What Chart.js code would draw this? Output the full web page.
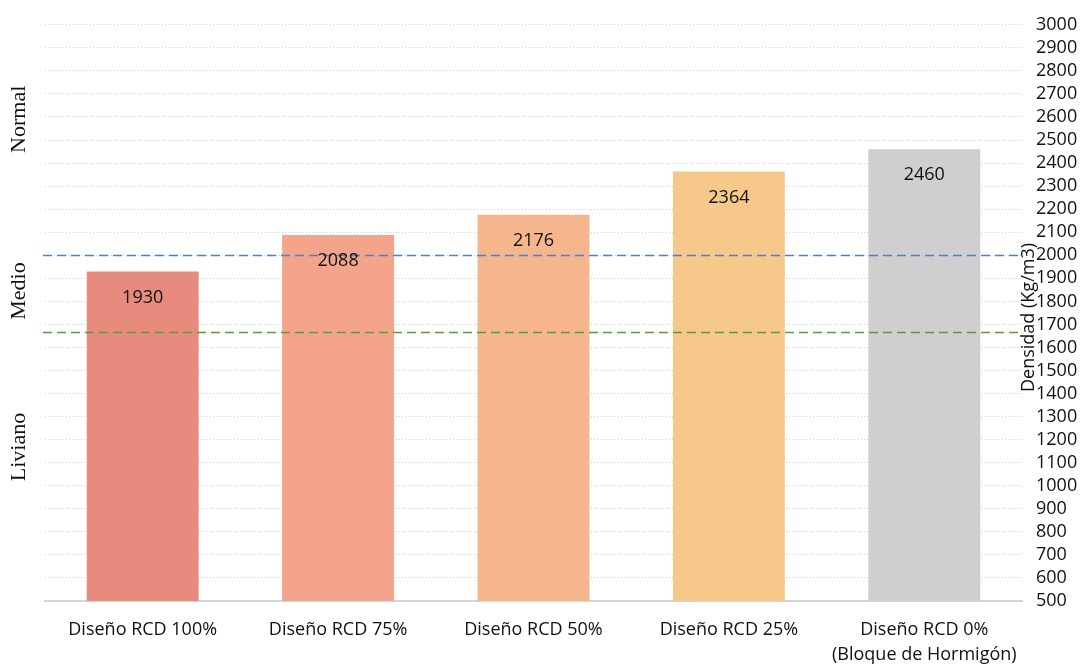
<!DOCTYPE html>
<html>
<head>
<meta charset="utf-8">
<script src="https://cdn.jsdelivr.net/npm/chart.js@4/dist/chart.umd.min.js"></script>
<style>
  html, body { margin: 0; padding: 0; background: #ffffff; }
  #wrap { width: 1089px; height: 666px; position: relative; }
</style>
</head>
<body>
<div id="wrap"><canvas id="c" width="1089" height="666"></canvas></div>
<script>
// Categories (multi-line labels) and measured densities
const categories = [
  ['Diseño RCD 100%'],
  ['Diseño RCD 75%'],
  ['Diseño RCD 50%'],
  ['Diseño RCD 25%'],
  ['Diseño RCD 0%', '(Bloque de Hormigón)']
];
const densidades = [1930, 2088, 2176, 2364, 2460];

// Density class limits (Medio / Normal and Liviano / Medio)
const limiteNormal = 2000;
const limiteLiviano = 1665;

// Class names shown on the left side
const clases = ['Normal', 'Medio', 'Liviano'];

// Axis range
const yMin = 500, yMax = 3000, yStep = 100;

const barColors = ['#E78B7E', '#F4A48A', '#F5B68E', '#F6C98A', '#D0CECF'];
const axisTitle = 'Densidad (Kg/m3)';

const FONT = '"Open Sans", "DejaVu Sans", sans-serif';

// Dashed horizontal limit lines across the plot area
const limitLines = {
  id: 'limitLines',
  afterDatasetsDraw(chart) {
    const { ctx, chartArea, scales } = chart;
    const lines = [
      { v: limiteNormal, color: '#4A80CC' },
      { v: limiteLiviano, color: '#5B9A3C' }
    ];
    ctx.save();
    ctx.lineWidth = 1.6;
    ctx.setLineDash([9, 5]);
    lines.forEach(l => {
      const y = Math.round(scales.y.getPixelForValue(l.v)) + 0.5;
      ctx.strokeStyle = l.color;
      ctx.beginPath();
      ctx.moveTo(chartArea.left - 2, y);
      ctx.lineTo(chartArea.right, y);
      ctx.stroke();
    });
    ctx.restore();
  }
};

// Value labels inside the top of each bar
const valueLabels = {
  id: 'valueLabels',
  afterDatasetsDraw(chart) {
    const { ctx } = chart;
    const meta = chart.getDatasetMeta(0);
    ctx.save();
    ctx.font = '18px ' + FONT;
    ctx.fillStyle = '#111111';
    ctx.textAlign = 'center';
    ctx.textBaseline = 'middle';
    meta.data.forEach((bar, i) => {
      ctx.fillText(String(chart.data.datasets[0].data[i]), bar.x, bar.y + 26);
    });
    ctx.restore();
  }
};

// Rotated side texts: class names on the left, axis title next to the right ticks
const sideTexts = {
  id: 'sideTexts',
  afterDraw(chart) {
    const { ctx, chartArea, scales } = chart;
    const centers = [2590, 1845, 1168];
    ctx.save();
    ctx.fillStyle = '#111111';
    ctx.textAlign = 'center';
    ctx.textBaseline = 'middle';
    ctx.font = '22px "Liberation Serif", "Times New Roman", serif';
    clases.forEach((t, i) => {
      const y = scales.y.getPixelForValue(centers[i]);
      ctx.save();
      ctx.translate(19, y);
      ctx.rotate(-Math.PI / 2);
      ctx.fillText(t, 0, 0);
      ctx.restore();
    });
    ctx.font = '18px ' + FONT;
    ctx.save();
    ctx.translate(chartArea.right + 7, scales.y.getPixelForValue(1730));
    ctx.rotate(-Math.PI / 2);
    ctx.fillText(axisTitle, 0, 0);
    ctx.restore();
    ctx.restore();
  }
};

new Chart(document.getElementById('c'), {
  type: 'bar',
  data: {
    labels: categories,
    datasets: [{
      data: densidades,
      backgroundColor: barColors,
      borderWidth: 0,
      categoryPercentage: 1,
      barPercentage: 0.573
    }]
  },
  options: {
    responsive: false,
    animation: false,
    devicePixelRatio: 1,
    layout: { padding: { left: 45, top: 21, right: 0, bottom: 0 } },
    plugins: {
      legend: { display: false },
      tooltip: { enabled: false }
    },
    scales: {
      x: {
        grid: { display: false, drawTicks: false },
        border: { display: true, color: '#D4D4D4', width: 2 },
        ticks: {
          color: '#111111',
          font: { family: FONT, size: 18, lineHeight: 1.4 },
          padding: 16,
          maxRotation: 0,
          autoSkip: false
        },
        afterFit(scale) { scale.height = 65; }
      },
      y: {
        position: 'right',
        min: yMin,
        max: yMax,
        grid: { color: '#CFCFCF', lineWidth: 1, drawTicks: false },
        border: { display: false, dash: [1, 2] },
        ticks: {
          stepSize: yStep,
          color: '#111111',
          font: { family: FONT, size: 18 },
          padding: 14,
          autoSkip: false,
          callback: v => String(v)
        },
        afterFit(scale) { scale.width = 67; }
      }
    }
  },
  plugins: [limitLines, valueLabels, sideTexts]
});
</script>
</body>
</html>
